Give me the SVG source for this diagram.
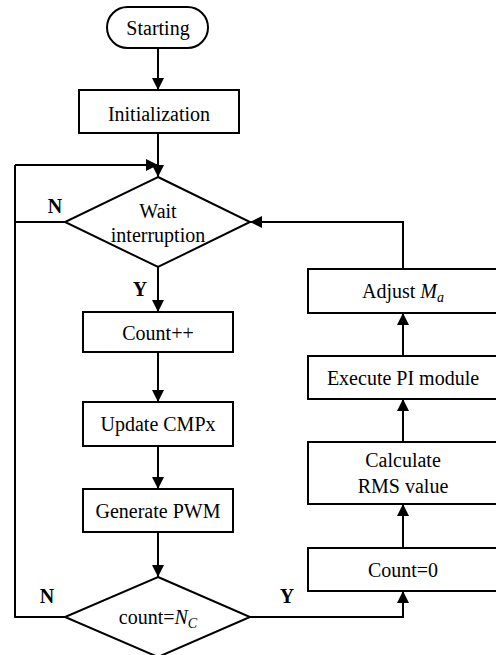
<svg xmlns="http://www.w3.org/2000/svg" width="496" height="655" viewBox="0 0 496 655">
<defs>
<marker id="ah" viewBox="0 0 12 12" refX="12" refY="6" markerWidth="12" markerHeight="12" markerUnits="userSpaceOnUse" orient="auto">
<path d="M0,0 L12,6 L0,12 Z" fill="#000"/>
</marker>
</defs>
<style>
.s{fill:#fff;stroke:#000;stroke-width:2}
text{font-family:'Liberation Serif','Times New Roman','DejaVu Serif',serif;font-size:20px;fill:#000;text-anchor:middle}
.l{font-weight:bold}
.c{fill:none;stroke:#000;stroke-width:2}
.i{font-style:italic}
</style>
<rect width="496" height="655" fill="#fff"/>
<g id="connectors">
<path class="c" d="M158,48 V90" marker-end="url(#ah)"/>
<path class="c" d="M158,133 V177" marker-end="url(#ah)"/>
<path class="c" d="M15,165 H158" marker-end="url(#ah)"/>
<path class="c" d="M65,222 H15"/>
<path class="c" d="M65,617 H15 V165"/>
<path class="c" d="M158,267 V312" marker-end="url(#ah)"/>
<path class="c" d="M158,352 V402" marker-end="url(#ah)"/>
<path class="c" d="M158,446 V489" marker-end="url(#ah)"/>
<path class="c" d="M158,532 V577" marker-end="url(#ah)"/>
<path class="c" d="M250,617 H403 V591" marker-end="url(#ah)"/>
<path class="c" d="M403,548 V504" marker-end="url(#ah)"/>
<path class="c" d="M403,442 V399" marker-end="url(#ah)"/>
<path class="c" d="M403,356 V313" marker-end="url(#ah)"/>
<path class="c" d="M403,269 V222 H250" marker-end="url(#ah)"/>
</g>
<g id="start">
<rect class="s" x="107" y="7" width="101" height="41" rx="20.5"/>
<text x="158" y="35" font-family="Liberation Serif, serif">Starting</text>
</g>
<g id="init">
<rect class="s" x="79" y="90" width="160" height="43"/>
<text x="159" y="121" font-family="Liberation Serif, serif">Initialization</text>
</g>
<g id="wait">
<polygon class="s" points="158,177 250,222 158,267 65,222"/>
<text x="158" y="218" font-family="Liberation Serif, serif">Wait</text>
<text x="158" y="242" font-family="Liberation Serif, serif">interruption</text>
</g>
<g id="count">
<rect class="s" x="83" y="312" width="150" height="40"/>
<text x="158" y="340" font-family="Liberation Serif, serif">Count++</text>
</g>
<g id="update">
<rect class="s" x="83" y="402" width="150" height="44"/>
<text x="158" y="431" font-family="Liberation Serif, serif">Update CMPx</text>
</g>
<g id="pwm">
<rect class="s" x="83" y="489" width="150" height="43"/>
<text x="158" y="518" font-family="Liberation Serif, serif">Generate PWM</text>
</g>
<g id="check">
<polygon class="s" points="158,577 250,617 158,657 65,617"/>
<text x="158" y="624" font-family="Liberation Serif, serif">count=<tspan class="i">N</tspan><tspan class="i" font-size="14" dy="4">C</tspan></text>
</g>
<g id="reset">
<rect class="s" x="308" y="548" width="192" height="43"/>
<text x="403" y="577" font-family="Liberation Serif, serif">Count=0</text>
</g>
<g id="rms">
<rect class="s" x="308" y="442" width="192" height="62"/>
<text x="403" y="467" font-family="Liberation Serif, serif">Calculate</text>
<text x="403" y="493" font-family="Liberation Serif, serif">RMS value</text>
</g>
<g id="pi">
<rect class="s" x="308" y="356" width="192" height="43"/>
<text x="403" y="385" font-family="Liberation Serif, serif">Execute PI module</text>
</g>
<g id="adjust">
<rect class="s" x="308" y="269" width="192" height="44"/>
<text x="403" y="298" font-family="Liberation Serif, serif">Adjust <tspan class="i">M</tspan><tspan class="i" font-size="14" dy="4">a</tspan></text>
</g>
<g id="labels">
<text class="l" x="55" y="213" font-family="Liberation Serif, serif">N</text>
<text class="l" x="140" y="296" font-family="Liberation Serif, serif">Y</text>
<text class="l" x="47" y="603" font-family="Liberation Serif, serif">N</text>
<text class="l" x="287" y="603" font-family="Liberation Serif, serif">Y</text>
</g>
</svg>
